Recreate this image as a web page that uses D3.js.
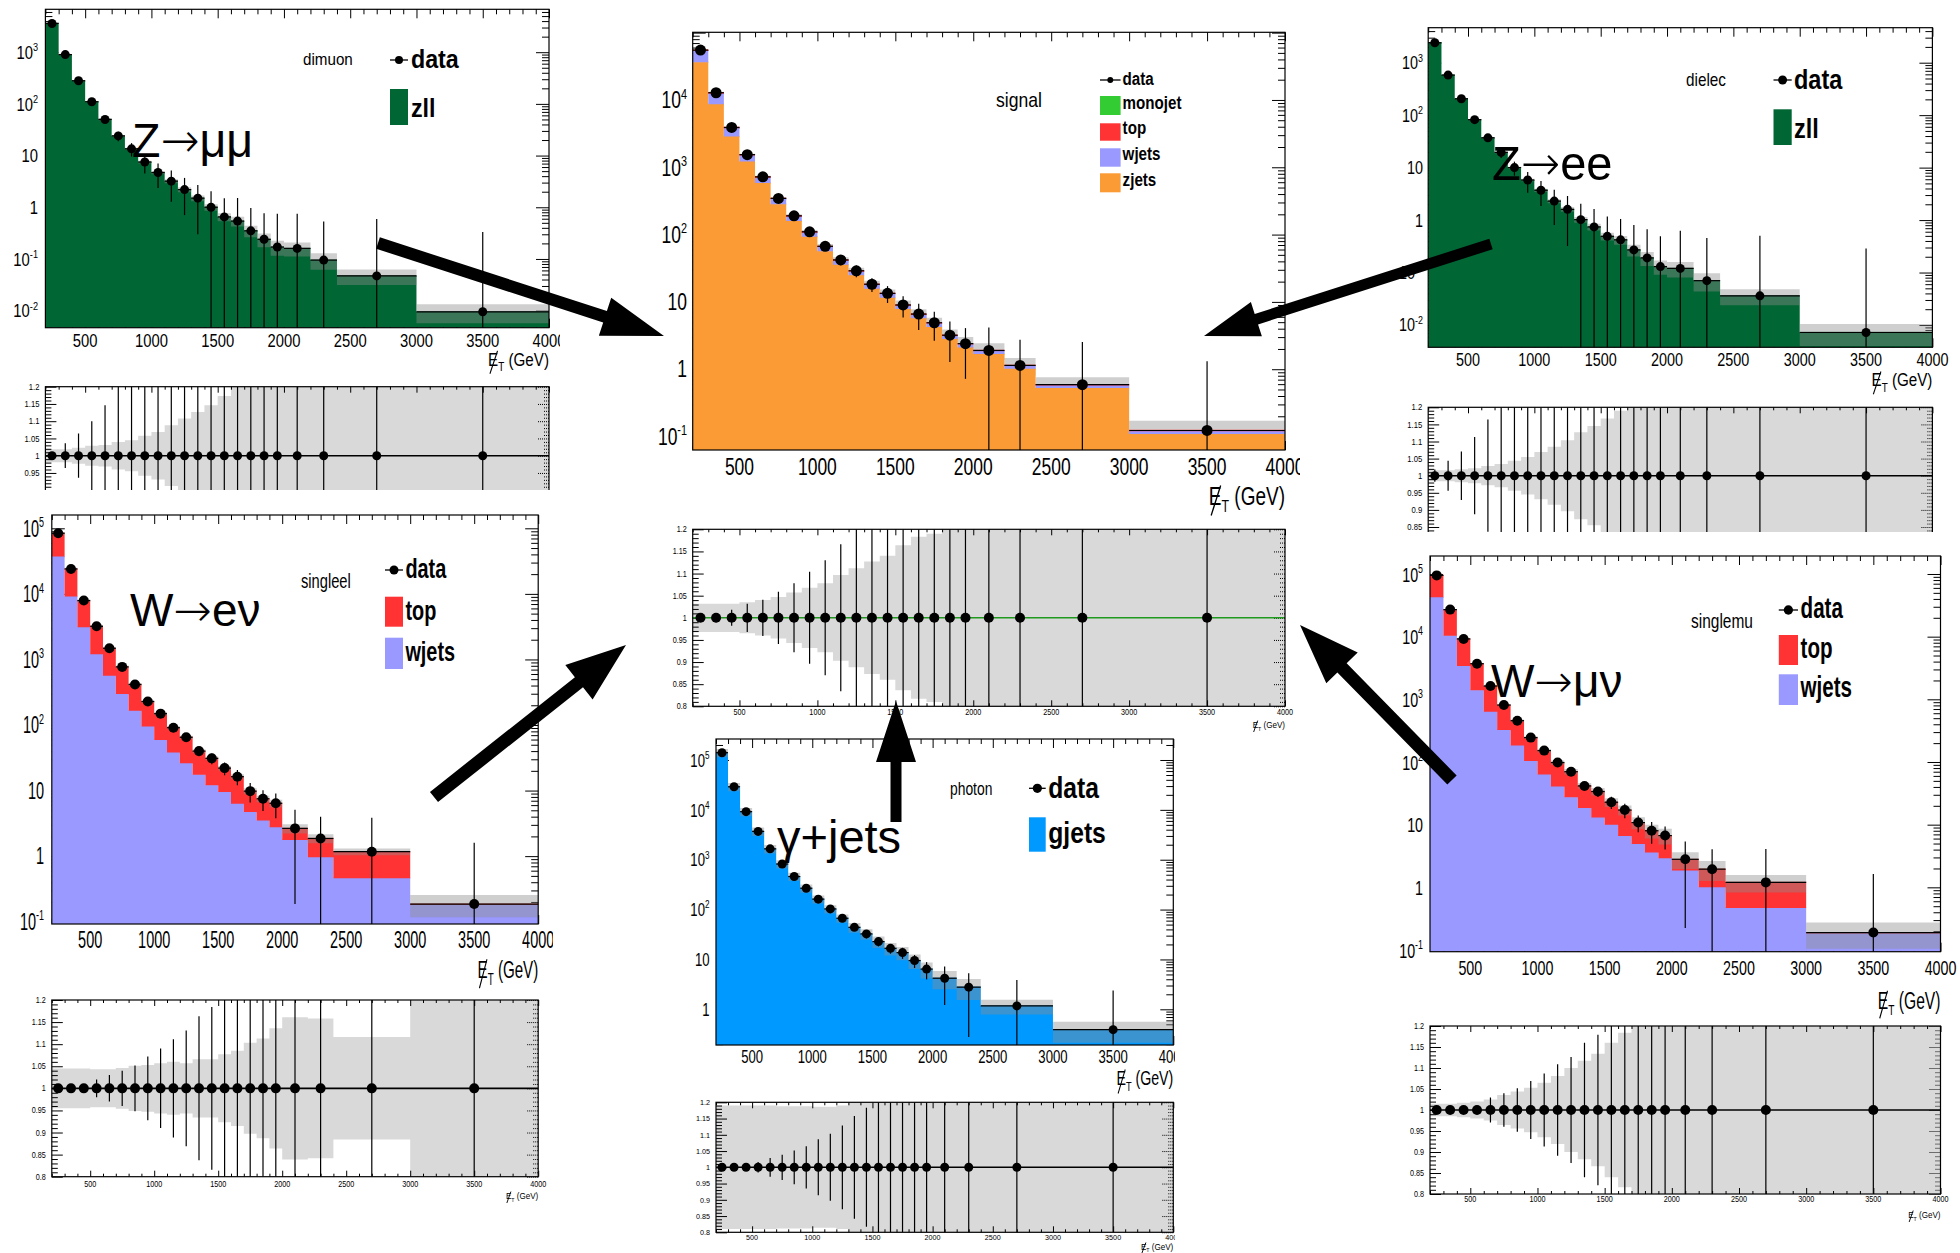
<!DOCTYPE html>
<html>
<head>
<meta charset="utf-8">
<script src="https://cdn.jsdelivr.net/npm/d3@7"></script>
<style>
  body { margin: 0; background: #fff; }
  text { font-family: "Liberation Sans", Arial, Helvetica, sans-serif; }
</style>
</head>
<body>
<script>
// ---------------- data ----------------
const binEdges = [200, 300, 400, 500, 600, 700, 800, 900, 1000, 1100, 1200, 1300, 1400, 1500, 1600, 1700, 1800, 1900, 2000, 2200, 2400, 3000, 4000];
const xTickLabels = [500, 1000, 1500, 2000, 2500, 3000, 3500, 4000];
const ratioTicks = [0.8, 0.85, 0.9, 0.95, 1, 1.05, 1.1, 1.15, 1.2];

// dimuon  (Z -> mumu)
const dimuonData = [3600, 900, 280, 110, 50, 24, 13.5, 7.5, 4.7, 3.2, 2.2, 1.5, 1.0, 0.65, 0.54, 0.35, 0.24, 0.17, 0.16, 0.095, 0.047, 0.0095];
const dimuonZll  = [3600, 900, 280, 110, 50, 24, 13.5, 7.5, 4.7, 3.2, 2.2, 1.5, 1.0, 0.65, 0.54, 0.35, 0.24, 0.17, 0.16, 0.095, 0.047, 0.0095];
const dimuonErr  = [0.01, 0.036, 0.064, 0.1, 0.146, 0.21, 0.29, 0.4, 0.5, 0.6, 0.68, 0.8, 1.05, 1.3, 1.8, 1.75, 2.2, 3.4, 3.7, 4.6, 11.6, 34];
const dimuonBand = [0.019, 0.019, 0.023, 0.029, 0.031, 0.04, 0.045, 0.058, 0.069, 0.088, 0.108, 0.127, 0.146, 0.173, 0.21, 0.25, 0.3, 0.32, 0.3, 0.35, 0.33, 0.4];

// dielec  (Z -> ee)
const dielecData = [2400, 580, 205, 82, 37, 19.5, 10, 5.8, 3.7, 2.3, 1.6, 1.02, 0.74, 0.49, 0.42, 0.27, 0.19, 0.13, 0.12, 0.07, 0.036, 0.0072];
const dielecZll  = [2400, 580, 205, 82, 37, 19.5, 10, 5.8, 3.7, 2.3, 1.6, 1.02, 0.74, 0.49, 0.42, 0.27, 0.19, 0.13, 0.12, 0.07, 0.036, 0.0072];
const dielecErr  = [0.018, 0.044, 0.071, 0.113, 0.164, 0.22, 0.3, 0.43, 0.5, 0.65, 0.8, 1.0, 1.2, 1.4, 1.5, 2.0, 2.5, 2.8, 4.2, 5.5, 13, 39];
const dielecBand = [0.016, 0.016, 0.019, 0.022, 0.028, 0.034, 0.044, 0.055, 0.069, 0.085, 0.104, 0.127, 0.145, 0.167, 0.19, 0.25, 0.3, 0.3, 0.33, 0.38, 0.34, 0.45];

// signal
const signalData    = [55000, 12800, 3900, 1540, 720, 345, 190, 110, 67, 42, 29, 18.3, 13.4, 9.0, 6.6, 4.9, 3.2, 2.4, 1.9, 1.14, 0.59, 0.123];
const signalZjets   = [36400, 8640, 2870, 1220, 586, 283, 159.2, 92.8, 56.7, 35.7, 24.8, 15.73, 11.53, 7.82, 5.72, 4.25, 2.82, 2.11, 1.68, 1.015, 0.528, 0.1095];
const signalWjets   = [17500, 3900, 950, 290, 120, 55, 27, 15, 9, 5.5, 3.6, 2.2, 1.6, 1.0, 0.75, 0.55, 0.32, 0.24, 0.18, 0.1, 0.05, 0.011];
const signalTop     = [1100, 260, 80, 30, 14, 7, 3.8, 2.2, 1.3, 0.8, 0.6, 0.37, 0.27, 0.18, 0.13, 0.1, 0.06, 0.05, 0.04, 0.025, 0.012, 0.0025];
const signalMonojet = [0, 0, 0, 0, 0, 0, 0, 0, 0, 0, 0, 0, 0, 0, 0, 0, 0, 0, 0, 0, 0, 0];
const signalErr     = [0.005, 0.01, 0.018, 0.032, 0.041, 0.059, 0.078, 0.104, 0.13, 0.166, 0.2, 0.23, 0.28, 0.35, 0.42, 0.46, 0.6, 0.7, 1.2, 1.4, 3.3, 9.7];
const signalBand    = [0.032, 0.032, 0.032, 0.035, 0.04, 0.047, 0.057, 0.068, 0.078, 0.097, 0.112, 0.127, 0.14, 0.164, 0.183, 0.19, 0.22, 0.25, 0.28, 0.29, 0.29, 0.4];

// singleel  (W -> e nu)
const singleelData  = [84000, 24000, 7900, 3200, 1480, 770, 415, 228, 149, 91, 65, 40, 31, 22, 16.3, 9.8, 7.5, 6.4, 2.65, 1.86, 1.17, 0.186];
const singleelWjets = [37000, 9100, 3100, 1200, 565, 297, 165, 95, 59, 38, 26, 17.4, 12.1, 9.5, 6.3, 4.7, 3.5, 2.75, 1.77, 0.96, 0.46, 0.18];
const singleelTop   = [47000, 14900, 4800, 2000, 915, 473, 250, 133, 90, 53, 39, 22.6, 18.9, 12.5, 10, 5.1, 4, 3.65, 0.88, 0.9, 0.71, 0.006];
const singleelErr   = [0.005, 0.005, 0.006, 0.02, 0.03, 0.04, 0.052, 0.072, 0.09, 0.111, 0.131, 0.163, 0.184, 0.22, 0.26, 0.33, 0.35, 0.41, 0.93, 1.14, 2.3, 7.6];
const singleelBand  = [0.045, 0.045, 0.045, 0.043, 0.043, 0.046, 0.051, 0.053, 0.057, 0.06, 0.057, 0.066, 0.066, 0.077, 0.085, 0.103, 0.113, 0.136, 0.161, 0.158, 0.116, 0.37];

// singlemu  (W -> mu nu)
const singlemuData  = [95000, 27000, 9200, 3700, 1630, 810, 456, 245, 152, 98, 70, 41.5, 33.8, 22.8, 17.1, 10.8, 8, 6.7, 2.8, 1.95, 1.2, 0.19];
const singlemuWjets = [42500, 10300, 3400, 1400, 635, 325, 183, 104, 63, 40.5, 27.5, 18.4, 13, 10, 6.6, 4.9, 3.6, 2.9, 1.85, 1.0, 0.47, 0.185];
const singlemuTop   = [52500, 16700, 5800, 2300, 995, 485, 273, 141, 89, 57.5, 42.5, 23.1, 20.8, 12.8, 10.5, 5.9, 4.4, 3.8, 0.95, 0.95, 0.73, 0.005];
const singlemuErr   = [0.005, 0.005, 0.006, 0.01, 0.03, 0.04, 0.052, 0.069, 0.087, 0.109, 0.126, 0.16, 0.179, 0.22, 0.26, 0.3, 0.38, 0.4, 0.92, 1.08, 2.4, 7.6];
const singlemuBand  = [0.015, 0.015, 0.017, 0.02, 0.025, 0.036, 0.044, 0.053, 0.065, 0.081, 0.1, 0.117, 0.134, 0.16, 0.184, 0.22, 0.25, 0.28, 0.3, 0.35, 0.31, 0.45];

// photon  (gamma + jets)
const photonData  = [140000, 29000, 9200, 3700, 1650, 820, 460, 268, 162, 103, 67, 44, 32.5, 22.8, 16.7, 13.7, 9.5, 6.4, 4.2, 2.78, 1.17, 0.39];
const photonGjets = [140000, 29000, 9200, 3700, 1650, 820, 460, 268, 162, 103, 67, 44, 32.5, 22.8, 16.7, 13.7, 9.5, 6.4, 4.2, 2.78, 1.17, 0.39];
const photonErr   = [0.005, 0.005, 0.007, 0.016, 0.029, 0.039, 0.052, 0.065, 0.086, 0.103, 0.129, 0.158, 0.183, 0.2, 0.22, 0.25, 0.29, 0.38, 0.71, 0.9, 2.3, 5.1];
const photonBand  = [0.19, 0.19, 0.19, 0.19, 0.19, 0.188, 0.188, 0.188, 0.186, 0.186, 0.19, 0.22, 0.24, 0.26, 0.28, 0.3, 0.32, 0.35, 0.4, 0.45, 0.33, 0.45];

// ---------------- colours ----------------
const ZLL = '#006633', ORANGE = '#fb9b35', PURPLE = '#9999ff', RED = '#ff3333', GREEN = '#33cc33', BLUE = '#0099ff';

const W = 1960, H = 1253;
const svg = d3.select('body').append('svg').attr('width', W).attr('height', H);
const defs = svg.append('defs');

function clip(id, x0, y0, x1, y1) {
  defs.append('clipPath').attr('id', id)
    .append('rect').attr('x', x0).attr('y', y0).attr('width', x1 - x0).attr('height', y1 - y0);
  return `url(#${id})`;
}

// squeezed text, the panels in the picture are narrowed horizontally
function txt(g, x, y, s, fs, sx, anchor = 'start', weight = 'normal') {
  return g.append('text')
    .attr('transform', `translate(${x},${y}) scale(${sx},1)`)
    .attr('font-size', fs).attr('font-weight', weight)
    .attr('text-anchor', anchor).text(s);
}

function powLabel(g, x, y, e, fs, sx) {
  const t = g.append('text')
    .attr('transform', `translate(${x},${y}) scale(${sx},1)`)
    .attr('font-size', fs).attr('text-anchor', 'end');
  if (e === 0) t.text('1');
  else if (e === 1) t.text('10');
  else {
    t.append('tspan').text('10');
    t.append('tspan').attr('dy', -fs * 0.42).attr('font-size', fs * 0.62).text(e);
  }
}

// missing-ET label: E, subscript T, and a long slash drawn through them
function etLabel(g, x, y, fs, sx) {
  const lg = g.append('g').attr('transform', `translate(${x},${y}) scale(${sx},1)`);
  const t = lg.append('text').attr('font-size', fs).attr('text-anchor', 'end');
  t.append('tspan').text('E');
  t.append('tspan').attr('dy', fs * 0.28).attr('font-size', fs * 0.65).text('T');
  t.append('tspan').attr('dy', -fs * 0.28).text(' (GeV)');
  const bb = t.node().getBBox();
  lg.append('line')
    .attr('x1', bb.x + fs * 0.12).attr('y1', fs * 0.42)
    .attr('x2', bb.x + fs * 0.62).attr('y2', -fs * 0.78)
    .attr('stroke', '#000').attr('stroke-width', Math.max(1, fs * 0.07));
}

// big process annotation, the arrow taken from DejaVu for its long shaft
function bigLabel(g, b) {
  const t = g.append('text')
    .attr('transform', `translate(${b.x},${b.y}) scale(${b.sx},1)`)
    .attr('font-size', b.fs);
  t.append('tspan').text(b.from);
  t.append('tspan').attr('font-family', '"DejaVu Sans", sans-serif').attr('font-weight', 200).text('\u2192');
  t.append('tspan').text(b.to);
}

function tickSet(g, axis, tx, ty, vals, len, dash) {
  const a = g.append('g').attr('transform', `translate(${tx},${ty})`)
    .call(axis.tickValues(vals).tickSize(-len).tickFormat(() => ''));
  a.select('.domain').remove();
  a.selectAll('line').attr('stroke', '#000').attr('stroke-width', 1);
  if (dash) a.selectAll('line').attr('stroke-dasharray', '1,1');
}

const xMajor = d3.range(500, 4001, 500);
const xMinor = d3.range(200, 4001, 100).filter(v => v % 500 !== 0);

// step points: one per bin edge, the last edge repeats the last bin
function stepPts(lo, hi) {
  const n = lo.length;
  const pts = binEdges.slice(0, n).map((e, i) => ({ x: e, lo: lo[i], hi: hi[i] }));
  pts.push({ x: binEdges[n], lo: lo[n - 1], hi: hi[n - 1] });
  return pts;
}

function drawPanel(p) {
  const g = svg.append('g').attr('clip-path', clip(p.id + '-crop', ...p.crop));
  const x = d3.scaleLinear().domain([binEdges[0], binEdges[binEdges.length - 1]]).range([p.x0, p.x1]);
  const y = d3.scaleLog().domain([10 ** p.lo, 10 ** p.hi]).range([p.y1, p.y0]).clamp(true);
  const total = p.data.map((d, i) => d3.sum(p.stacks, s => s.v[i]));
  const bins = p.data.map((d, i) => ({ i, lo: binEdges[i], hi: binEdges[i + 1], d, tot: total[i], err: p.err[i], band: p.band[i] }));
  const yv = v => (v > 0 ? y(v) : p.y1);
  const area = d3.area().curve(d3.curveStepAfter).x(d => x(d.x)).y0(d => yv(d.lo)).y1(d => yv(d.hi));

  // ---- main frame ticks (under the fill, like ROOT) ----
  const majLog = [], minLog = [];
  for (let e = Math.floor(p.lo); e <= Math.ceil(p.hi); e++) {
    for (let k = 1; k <= 9; k++) {
      const v = k * 10 ** e, lv = Math.log10(v);
      if (lv >= p.lo && lv <= p.hi) (k === 1 ? majLog : minLog).push(v);
    }
  }
  const tk = g.append('g');
  tickSet(tk, d3.axisBottom(x), 0, p.y1, xMajor, 9);
  tickSet(tk, d3.axisBottom(x), 0, p.y1, xMinor, 5);
  tickSet(tk, d3.axisTop(x), 0, p.y0, xMajor, 9);
  tickSet(tk, d3.axisTop(x), 0, p.y0, xMinor, 5);
  tickSet(tk, d3.axisLeft(y), p.x0, 0, majLog, 13);
  tickSet(tk, d3.axisLeft(y), p.x0, 0, minLog, 7);
  tickSet(tk, d3.axisRight(y), p.x1, 0, majLog, 13);
  tickSet(tk, d3.axisRight(y), p.x1, 0, minLog, 7);

  const plot = g.append('g').attr('clip-path', clip(p.id + '-frame', p.x0, p.y0, p.x1, p.y1));
  const bandLo = bins.map(b => b.tot * (1 - b.band)), bandHi = bins.map(b => b.tot * (1 + b.band));
  const drawBand = () => plot.append('path').attr('d', area(stepPts(bandLo, bandHi)))
    .attr('fill', '#8c8c8c').attr('opacity', 0.42);
  if (p.bandBelow) drawBand();

  // ---- stacked histograms ----
  let base = bins.map(() => 0);
  p.stacks.forEach(s => {
    const lower = base.slice();
    const upper = base.map((b, i) => b + s.v[i]);
    plot.append('path').attr('d', area(stepPts(lower, upper))).attr('fill', s.c);
    plot.append('g').selectAll('line').data(bins.filter(b => s.v[b.i] > 0)).join('line')
      .attr('x1', b => x(b.lo)).attr('x2', b => x(b.hi))
      .attr('y1', b => yv(upper[b.i])).attr('y2', b => yv(upper[b.i]))
      .attr('stroke', s.c).attr('stroke-width', 1.3);
    base = upper;
  });

  // ---- uncertainty band ----
  if (!p.bandBelow) drawBand();

  // ---- data ----
  const dg = g.append('g').attr('stroke', '#000').attr('stroke-width', 1.2);
  dg.selectAll('.xe').data(bins).join('line').attr('class', 'xe')
    .attr('x1', b => x(b.lo)).attr('x2', b => x(b.hi))
    .attr('y1', b => y(b.d)).attr('y2', b => y(b.d));
  dg.selectAll('.ye').data(bins).join('line').attr('class', 'ye')
    .attr('x1', b => x((b.lo + b.hi) / 2)).attr('x2', b => x((b.lo + b.hi) / 2))
    .attr('y1', b => yv(b.d * (1 + b.err))).attr('y2', b => yv(b.d * (1 - b.err)));
  g.append('g').selectAll('circle').data(bins).join('circle')
    .attr('cx', b => x((b.lo + b.hi) / 2)).attr('cy', b => y(b.d)).attr('r', p.r).attr('fill', '#000');

  g.append('rect').attr('x', p.x0).attr('y', p.y0).attr('width', p.x1 - p.x0).attr('height', p.y1 - p.y0)
    .attr('fill', 'none').attr('stroke', '#000').attr('stroke-width', 1.2);

  // ---- axis labels ----
  p.decades.forEach(e => powLabel(g, p.yLabX, y(10 ** e) + p.fs * 0.36, e, p.fs, p.sx));
  xTickLabels.forEach(v => txt(g, x(v), p.y1 + p.xLabDy, v, p.fs, p.sx, 'middle'));
  etLabel(g, p.x1, p.y1 + p.etDy, p.etFs, p.sx);

  // ---- tag, legend, annotation ----
  txt(g, p.tag.x, p.tag.y, p.tag.t, p.tag.fs, p.tag.sx);
  p.leg.forEach(it => {
    if (it.kind === 'data') {
      g.append('line').attr('x1', p.legX).attr('x2', p.legX + p.legW).attr('y1', it.cy).attr('y2', it.cy)
        .attr('stroke', '#000').attr('stroke-width', 1.3);
      g.append('circle').attr('cx', p.legX + p.legW / 2).attr('cy', it.cy).attr('r', p.legFs * 0.16).attr('fill', '#000');
    } else {
      g.append('rect').attr('x', p.legX).attr('y', it.top).attr('width', p.legW).attr('height', it.bot - it.top)
        .attr('fill', it.c);
    }
    txt(g, p.legTx, it.base, it.label, p.legFs, p.legSx, 'start', 'bold');
  });
  if (p.big) bigLabel(g, p.big);

  // ---- ratio pad ----
  const r = p.ratio;
  const cutY = p.crop[3];
  const yr = d3.scaleLinear().domain([0.8, 1.2]).range([r.yBot, r.yTop]).clamp(true);
  const rArea = d3.area().curve(d3.curveStepAfter).x(d => x(d.x)).y0(d => yr(d.lo)).y1(d => yr(d.hi));
  const rMaj = ratioTicks, rMin = d3.range(80, 121, 1).filter(v => v % 5 !== 0).map(v => v / 100);
  const rp = g.append('g').attr('clip-path', clip(p.id + '-rframe', p.x0, r.yTop, p.x1, r.yBot));
  rp.append('path')
    .attr('d', rArea(stepPts(bins.map(b => 1 - b.band), bins.map(b => 1 + b.band))))
    .attr('fill', '#d9d9d9');
  const rt = g.append('g');
  tickSet(rt, d3.axisBottom(x), 0, r.yBot, xMajor, 6);
  tickSet(rt, d3.axisBottom(x), 0, r.yBot, xMinor, 3);
  tickSet(rt, d3.axisTop(x), 0, r.yTop, xMajor, 6);
  tickSet(rt, d3.axisTop(x), 0, r.yTop, xMinor, 3);
  tickSet(rt, d3.axisLeft(yr), p.x0, 0, rMaj, 11);
  tickSet(rt, d3.axisLeft(yr), p.x0, 0, rMin, 6);
  tickSet(rt, d3.axisRight(yr), p.x1, 0, rMaj, 11, true);
  tickSet(rt, d3.axisRight(yr), p.x1, 0, rMin, 6, true);
  g.append('line').attr('x1', p.x0).attr('x2', p.x1).attr('y1', yr(1)).attr('y2', yr(1))
    .attr('stroke', r.green ? '#1f9a1f' : '#000').attr('stroke-width', 1.6);
  rp.append('g').selectAll('line').data(bins).join('line')
    .attr('x1', b => x((b.lo + b.hi) / 2)).attr('x2', b => x((b.lo + b.hi) / 2))
    .attr('y1', b => yr(b.d / b.tot + b.err)).attr('y2', b => yr(b.d / b.tot - b.err))
    .attr('stroke', '#000').attr('stroke-width', 1.2);
  g.append('g').selectAll('circle').data(bins).join('circle')
    .attr('cx', b => x((b.lo + b.hi) / 2)).attr('cy', b => yr(b.d / b.tot)).attr('r', r.dot).attr('fill', '#000');
  g.append('rect').attr('x', p.x0).attr('y', r.yTop).attr('width', p.x1 - p.x0).attr('height', r.yBot - r.yTop)
    .attr('fill', 'none').attr('stroke', '#000').attr('stroke-width', 1.2);
  // labels only where the cropped picture still shows them
  rMaj.filter(v => yr(v) + r.fs * 0.35 < cutY)
    .forEach(v => txt(g, p.x0 - 6, yr(v) + r.fs * 0.35, String(v), r.fs, r.sx, 'end'));
  if (r.labBase < cutY) {
    xTickLabels.forEach(v => txt(g, x(v), r.labBase, v, r.fs, r.sx, 'middle'));
    etLabel(g, p.x1, r.etBase, r.fs + 1, r.sx);
  }
}

// ---------------- panels ----------------
const panels = [
  {
    id: 'dimuon', crop: [0, 0, 560, 490],
    x0: 45.4, x1: 549, y0: 9.3, y1: 327.7, lo: -2.33, hi: 3.83, decades: [-2, -1, 0, 1, 2, 3],
    fs: 18.5, sx: 0.8, yLabX: 38, xLabDy: 19, etDy: 38, etFs: 19, r: 4.5,
    stacks: [{ v: dimuonZll, c: ZLL }], data: dimuonData, err: dimuonErr, band: dimuonBand,
    tag: { t: 'dimuon', x: 303, y: 65, fs: 16, sx: 0.95 },
    legFs: 25, legSx: 0.93, legX: 390, legW: 18, legTx: 411,
    leg: [{ kind: 'data', label: 'data', cy: 60, base: 68 },
          { kind: 'box', c: ZLL, label: 'zll', top: 89, bot: 125, base: 117 }],
    big: { from: 'Z', to: '\u03bc\u03bc', x: 132, y: 157, fs: 49, sx: 0.95 },
    ratio: { yTop: 386.7, yBot: 524.7, labBase: 540, etBase: 552, fs: 9, sx: 0.85, dot: 4.5 }
  },
  {
    id: 'signal', crop: [650, 20, 1300, 735], bandBelow: true,
    x0: 692.7, x1: 1285, y0: 32.3, y1: 450, lo: -1.2, hi: 5.005, decades: [-1, 0, 1, 2, 3, 4],
    fs: 23, sx: 0.76, yLabX: 687, xLabDy: 25, etDy: 55, etFs: 25, r: 5.5,
    stacks: [{ v: signalZjets, c: ORANGE }, { v: signalWjets, c: PURPLE }, { v: signalTop, c: RED }, { v: signalMonojet, c: GREEN }],
    data: signalData, err: signalErr, band: signalBand,
    tag: { t: 'signal', x: 996, y: 107, fs: 20, sx: 0.88 },
    legFs: 18.5, legSx: 0.82, legX: 1100, legW: 20.6, legTx: 1122.6,
    leg: [{ kind: 'data', label: 'data', cy: 80, base: 85 },
          { kind: 'box', c: GREEN, label: 'monojet', top: 96, bot: 115, base: 109 },
          { kind: 'box', c: RED, label: 'top', top: 123.3, bot: 140.7, base: 134 },
          { kind: 'box', c: PURPLE, label: 'wjets', top: 148.3, bot: 166.7, base: 160 },
          { kind: 'box', c: ORANGE, label: 'zjets', top: 173.3, bot: 192.3, base: 186 }],
    big: null,
    ratio: { yTop: 529.3, yBot: 706.3, labBase: 715, etBase: 728, fs: 8.5, sx: 0.85, dot: 5, green: true }
  },
  {
    id: 'dielec', crop: [1395, 0, 1960, 532],
    x0: 1428.2, x1: 1932.4, y0: 27.7, y1: 347.3, lo: -2.425, hi: 3.667, decades: [-2, -1, 0, 1, 2, 3],
    fs: 18, sx: 0.8, yLabX: 1423, xLabDy: 19, etDy: 39, etFs: 19, r: 4.5,
    stacks: [{ v: dielecZll, c: ZLL }], data: dielecData, err: dielecErr, band: dielecBand,
    tag: { t: 'dielec', x: 1686, y: 86, fs: 18, sx: 0.85 },
    legFs: 28, legSx: 0.84, legX: 1773.5, legW: 18.2, legTx: 1794,
    leg: [{ kind: 'data', label: 'data', cy: 80, base: 89 },
          { kind: 'box', c: ZLL, label: 'zll', top: 109.3, bot: 145, base: 137.7 }],
    big: { from: 'Z', to: 'ee', x: 1492, y: 180, fs: 49, sx: 0.96 },
    ratio: { yTop: 407.3, yBot: 544.1, labBase: 560, etBase: 572, fs: 9, sx: 0.85, dot: 4.5 }
  },
  {
    id: 'singleel', crop: [0, 505, 553, 1253],
    x0: 51.8, x1: 538.2, y0: 515, y1: 924, lo: -1.035, hi: 5.203, decades: [-1, 0, 1, 2, 3, 4, 5],
    fs: 23, sx: 0.63, yLabX: 44, xLabDy: 24, etDy: 54, etFs: 24, r: 5,
    stacks: [{ v: singleelWjets, c: PURPLE }, { v: singleelTop, c: RED }],
    data: singleelData, err: singleelErr, band: singleelBand,
    tag: { t: 'singleel', x: 301, y: 588, fs: 21, sx: 0.7 },
    legFs: 28, legSx: 0.71, legX: 385, legW: 18, legTx: 405.4,
    leg: [{ kind: 'data', label: 'data', cy: 570, base: 578 },
          { kind: 'box', c: RED, label: 'top', top: 596.7, bot: 626.7, base: 620 },
          { kind: 'box', c: PURPLE, label: 'wjets', top: 637.7, bot: 669, base: 661 }],
    big: { from: 'W', to: 'e\u03bd', x: 130, y: 625.7, fs: 46, sx: 1 },
    ratio: { yTop: 1000, yBot: 1176.7, labBase: 1187, etBase: 1199, fs: 8.5, sx: 0.85, dot: 5 }
  },
  {
    id: 'photon', crop: [690, 730, 1175, 1253],
    x0: 716, x1: 1173.3, y0: 739, y1: 1045, lo: -0.716, hi: 5.421, decades: [0, 1, 2, 3, 4, 5],
    fs: 18.5, sx: 0.71, yLabX: 709.5, xLabDy: 18, etDy: 40, etFs: 20, r: 4.5,
    stacks: [{ v: photonGjets, c: BLUE }], data: photonData, err: photonErr, band: photonBand,
    tag: { t: 'photon', x: 950, y: 795, fs: 18, sx: 0.77 },
    legFs: 29, legSx: 0.85, legX: 1029, legW: 16.7, legTx: 1048.3,
    leg: [{ kind: 'data', label: 'data', cy: 788.3, base: 798.3 },
          { kind: 'box', c: BLUE, label: 'gjets', top: 817.3, bot: 851.7, base: 843.3 }],
    big: { from: '\u03b3+jets', to: '', x: 777, y: 853, fs: 47, sx: 1, plain: true },
    ratio: { yTop: 1102.3, yBot: 1232.3, labBase: 1240, etBase: 1249.5, fs: 8, sx: 0.9, dot: 4.5 }
  },
  {
    id: 'singlemu', crop: [1385, 550, 1960, 1253],
    x0: 1430, x1: 1940.5, y0: 556, y1: 951.7, lo: -1.027, hi: 5.287, decades: [-1, 0, 1, 2, 3, 4, 5],
    fs: 21, sx: 0.68, yLabX: 1423, xLabDy: 23, etDy: 57, etFs: 23, r: 5,
    stacks: [{ v: singlemuWjets, c: PURPLE }, { v: singlemuTop, c: RED }],
    data: singlemuData, err: singlemuErr, band: singlemuBand,
    tag: { t: 'singlemu', x: 1691, y: 628, fs: 19.6, sx: 0.79 },
    legFs: 29, legSx: 0.71, legX: 1778.8, legW: 19.2, legTx: 1800.6,
    leg: [{ kind: 'data', label: 'data', cy: 610, base: 618.3 },
          { kind: 'box', c: RED, label: 'top', top: 635, bot: 665, base: 658.3 },
          { kind: 'box', c: PURPLE, label: 'wjets', top: 674.3, bot: 705, base: 696.7 }],
    big: { from: 'W', to: '\u03bc\u03bd', x: 1491, y: 697, fs: 46, sx: 1 },
    ratio: { yTop: 1026, yBot: 1194, labBase: 1202, etBase: 1218, fs: 8.5, sx: 0.85, dot: 5 }
  }
];

// the photon annotation has no arrow glyph
const _big = bigLabel;
bigLabel = function (g, b) {
  if (b.plain) txt(g, b.x, b.y, b.from, b.fs, b.sx);
  else _big(g, b);
};

panels.forEach(drawPanel);

// ---------------- big black arrows ----------------
const arrows = [
  { s: [378, 243], t: [664, 336], w: 12, hl: 62, hw: 40 },
  { s: [1491, 244], t: [1204, 336], w: 11, hl: 55, hw: 36 },
  { s: [434, 797], t: [626, 645], w: 13, hl: 60, hw: 44 },
  { s: [896, 822], t: [896, 701], w: 11, hl: 61, hw: 40 },
  { s: [1452, 780], t: [1300, 625], w: 13, hl: 60, hw: 44 }
];

function arrowPts(a) {
  const [sx, sy] = a.s, [tx, ty] = a.t;
  const dx = tx - sx, dy = ty - sy, L = Math.hypot(dx, dy);
  const ux = dx / L, uy = dy / L, nx = -uy, ny = ux;
  const bx = tx - ux * a.hl, by = ty - uy * a.hl;
  return [
    [sx + nx * a.w / 2, sy + ny * a.w / 2], [bx + nx * a.w / 2, by + ny * a.w / 2],
    [bx + nx * a.hw / 2, by + ny * a.hw / 2], [tx, ty],
    [bx - nx * a.hw / 2, by - ny * a.hw / 2], [bx - nx * a.w / 2, by - ny * a.w / 2],
    [sx - nx * a.w / 2, sy - ny * a.w / 2]
  ];
}

svg.append('g').selectAll('polygon').data(arrows).join('polygon')
  .attr('points', a => arrowPts(a).map(q => q.join(',')).join(' '))
  .attr('fill', '#000');
</script>
</body>
</html>
